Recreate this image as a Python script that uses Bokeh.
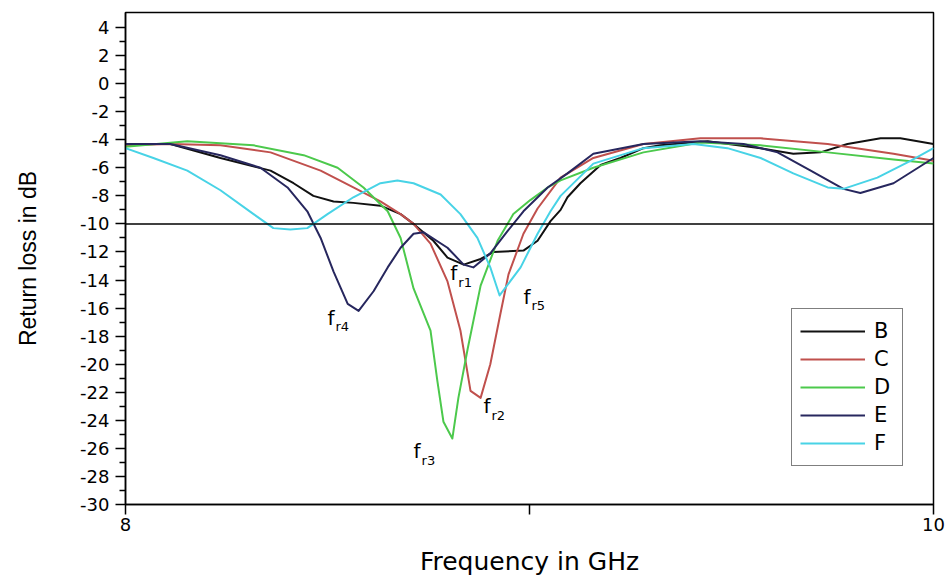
from bokeh.plotting import figure
from bokeh.models import FixedTicker, Span, Legend, LegendItem, Range1d
from bokeh.core.properties import value
from bokeh.embed import file_html
from bokeh.resources import INLINE

# Frequency (GHz) and return loss (dB)
freq_B = [8.000, 8.111, 8.235, 8.359, 8.416, 8.465, 8.515, 8.564, 8.631, 8.681, 8.713, 8.762, 8.797,
          8.837, 8.879, 8.911, 8.985, 9.020, 9.052, 9.077, 9.094, 9.126, 9.176, 9.225, 9.282, 9.324,
          9.441, 9.572, 9.653, 9.720, 9.787, 9.869, 9.918, 10.000]
db_B = [-4.3, -4.3, -5.3, -6.2, -7.1, -8.0, -8.4, -8.5, -8.7, -9.3, -10.0, -11.2, -12.4,
        -12.9, -12.5, -12.0, -11.9, -11.2, -9.8, -9.0, -8.1, -7.1, -5.8, -5.3, -4.6, -4.4,
        -4.1, -4.6, -5.0, -4.9, -4.3, -3.9, -3.9, -4.3]

freq_C = [8.000, 8.111, 8.235, 8.359, 8.483, 8.564, 8.631, 8.681, 8.713, 8.755, 8.797, 8.829, 8.854,
          8.879, 8.903, 8.928, 8.948, 8.985, 9.020, 9.077, 9.158, 9.282, 9.423, 9.572, 9.738, 9.901, 10.000]
db_C = [-4.4, -4.3, -4.4, -4.9, -6.2, -7.4, -8.4, -9.3, -10.0, -11.4, -14.1, -17.6, -21.9,
        -22.4, -20.0, -16.4, -13.6, -10.7, -8.9, -6.7, -5.3, -4.3, -3.9, -3.9, -4.3, -5.0, -5.5]

freq_D = [8.000, 8.153, 8.317, 8.441, 8.525, 8.589, 8.649, 8.681, 8.713, 8.755, 8.772, 8.787, 8.809,
          8.824, 8.847, 8.879, 8.921, 8.960, 9.002, 9.045, 9.077, 9.158, 9.282, 9.423, 9.572, 9.738,
          9.901, 10.000]
db_D = [-4.5, -4.1, -4.4, -5.1, -6.0, -7.4, -9.1, -11.0, -14.6, -17.6, -21.2, -24.1, -25.3,
        -22.4, -18.9, -14.4, -11.2, -9.3, -8.3, -7.4, -6.9, -6.0, -4.9, -4.2, -4.4, -4.9,
        -5.4, -5.7]

freq_E = [8.000, 8.111, 8.235, 8.334, 8.401, 8.450, 8.483, 8.515, 8.550, 8.577, 8.614, 8.649, 8.681,
          8.713, 8.738, 8.797, 8.837, 8.861, 8.903, 8.946, 8.985, 9.045, 9.094, 9.158, 9.282, 9.423,
          9.530, 9.614, 9.696, 9.777, 9.819, 9.901, 10.000]
db_E = [-4.3, -4.3, -5.1, -6.0, -7.4, -9.1, -11.0, -13.4, -15.7, -16.2, -14.8, -13.1, -11.7,
        -10.7, -10.6, -11.7, -12.9, -13.1, -12.1, -10.5, -9.1, -7.4, -6.4, -5.0, -4.3, -4.1,
        -4.3, -4.9, -6.2, -7.5, -7.8, -7.1, -5.3]

freq_F = [8.000, 8.069, 8.153, 8.235, 8.317, 8.366, 8.408, 8.450, 8.500, 8.564, 8.631, 8.673, 8.713,
          8.780, 8.829, 8.871, 8.903, 8.926, 8.978, 9.020, 9.052, 9.077, 9.158, 9.282, 9.406, 9.490,
          9.572, 9.653, 9.738, 9.777, 9.861, 9.943, 10.000]
db_F = [-4.6, -5.3, -6.2, -7.6, -9.3, -10.3, -10.4, -10.3, -9.3, -8.1, -7.1, -6.9, -7.1,
        -7.9, -9.3, -11.0, -13.1, -15.1, -13.1, -10.7, -9.1, -8.0, -5.7, -4.6, -4.3, -4.6,
        -5.3, -6.4, -7.4, -7.5, -6.7, -5.5, -4.6]

series_names = ["B", "C", "D", "E", "F"]
series_colors = ["#111111", "#c0504d", "#4cc94c", "#27275e", "#48d3e6"]

# resonance labels
ann_x = [8.804, 8.886, 8.713, 8.500, 8.985]
ann_y = [-13.5, -23.0, -26.2, -16.7, -15.2]
ann_sub = ["r1", "r2", "r3", "r4", "r5"]

y_ticks = list(range(-30, 5, 2))
x_ticks = [8, 9, 10]
x_tick_labels = {8: "8", 9: "", 10: "10"}

p = figure(width=949, height=580, x_range=Range1d(8, 10), y_range=Range1d(-30, 5.07),
           output_backend="svg", toolbar_location=None,
           min_border_left=125, min_border_right=16, min_border_top=12, min_border_bottom=76)
p.grid.visible = False
p.outline_line_color = "black"
p.outline_line_width = 1.5
p.background_fill_color = "white"
p.border_fill_color = "white"

p.add_layout(Span(location=-10, dimension="width", line_color="black", line_width=1.5))

freqs = [freq_B, freq_C, freq_D, freq_E, freq_F]
dbs = [db_B, db_C, db_D, db_E, db_F]
items = []
for name, col, fx, dy in zip(series_names, series_colors, freqs, dbs):
    r = p.line(fx, dy, line_color=col, line_width=2, line_join="round")
    items.append(LegendItem(label=name, renderers=[r]))

p.text(x=ann_x, y=ann_y, text=["f"] * len(ann_x), text_font=value("DejaVu Sans"),
       text_font_size="20px", text_color="black", text_align="left", text_baseline="alphabetic")
p.text(x=ann_x, y=ann_y, text=ann_sub, text_font=value("DejaVu Sans"),
       text_font_size="13px", text_color="black", text_align="left", text_baseline="alphabetic",
       x_offset=8, y_offset=9)

legend = Legend(items=items, location=(666, 38))
legend.border_line_color = "black"
legend.border_line_width = 1
legend.background_fill_color = "white"
legend.background_fill_alpha = 1
legend.label_text_font = "DejaVu Sans"
legend.label_text_font_size = "21px"
legend.label_text_color = "black"
legend.glyph_width = 65
legend.glyph_height = 28
legend.label_height = 28
legend.label_width = 20
legend.label_standoff = 9
legend.padding = 8
legend.spacing = 0
legend.margin = 0
p.add_layout(legend)

xa = p.xaxis[0]
xa.ticker = FixedTicker(ticks=x_ticks, minor_ticks=[])
xa.major_label_overrides = x_tick_labels
ya = p.yaxis[0]
ya.ticker = FixedTicker(ticks=y_ticks, minor_ticks=list(range(-29, 5, 2)))
ya.major_label_overrides = {t: str(t) for t in y_ticks}

for ax in (xa, ya):
    ax.axis_line_color = "black"
    ax.axis_line_width = 1.5
    ax.major_tick_line_color = "black"
    ax.major_tick_line_width = 1.5
    ax.minor_tick_line_color = "black"
    ax.minor_tick_line_width = 1.5
    ax.major_tick_in = 0
    ax.major_tick_out = 10
    ax.minor_tick_in = 0
    ax.minor_tick_out = 6
    ax.major_label_text_font = "DejaVu Sans"
    ax.major_label_text_font_size = "18px"
    ax.major_label_text_color = "black"
    ax.axis_label_text_font_style = "normal"
    ax.axis_label_text_color = "black"

xa.axis_label = "Frequency in GHz"
xa.axis_label_text_font = "DejaVu Sans"
xa.axis_label_text_font_size = "25px"
xa.major_label_standoff = 3
xa.axis_label_standoff = 13

ya.axis_label = "Return loss in dB"
ya.axis_label_text_font = "Liberation Sans"
ya.axis_label_text_font_size = "23px"
ya.major_label_standoff = 6
ya.axis_label_standoff = 36

open("out.html", "w").write(file_html(p, INLINE))
